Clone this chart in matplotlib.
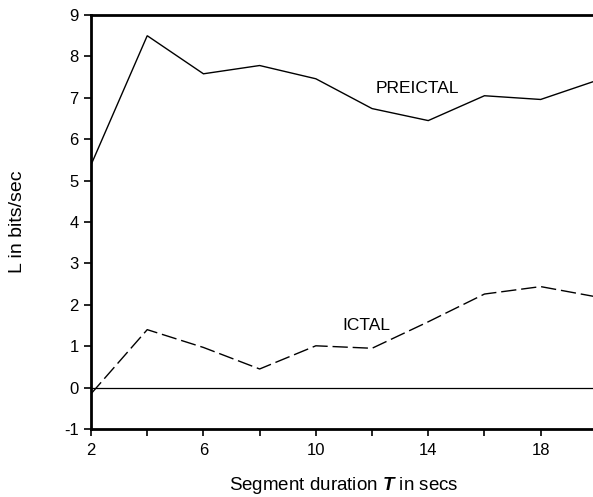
import matplotlib
matplotlib.use("Agg")
import matplotlib.pyplot as plt
from matplotlib.ticker import FixedLocator

plt.rcParams['font.family'] = ['Liberation Sans', 'DejaVu Sans']
plt.rcParams['axes.unicode_minus'] = False
plt.rcParams['mathtext.fontset'] = 'custom'
plt.rcParams['mathtext.rm'] = 'Liberation Sans'
plt.rcParams['mathtext.it'] = 'Liberation Sans:italic'
plt.rcParams['mathtext.bf'] = 'Liberation Sans:bold'
plt.rcParams['mathtext.bfit'] = 'Liberation Sans:italic:bold'

segment_T = [2, 4, 6, 8, 10, 12, 14, 16, 18, 20]
preictal = [5.38, 8.50, 7.58, 7.78, 7.46, 6.74, 6.45, 7.05, 6.96, 7.42]
ictal = [-0.15, 1.40, 0.97, 0.45, 1.01, 0.95, 1.59, 2.26, 2.44, 2.19]
major_x = [2, 6, 10, 14, 18]
minor_x = [4, 8, 12, 16]
y_ticks = [-1, 0, 1, 2, 3, 4, 5, 6, 7, 8, 9]

fig = plt.figure(figsize=(5.93, 4.97), dpi=100)
ax = fig.add_axes([0.1535, 0.1368, 0.853, 0.833])

ax.plot(segment_T, preictal, color='black', lw=1.0, solid_joinstyle='miter')
ax.plot(segment_T, ictal, color='black', lw=1.0, dashes=(11, 3.5))
ax.axhline(0, color='black', lw=0.9)

ax.text(13.6, 7.23, 'PREICTAL', ha='center', va='center', fontsize=12.5)
ax.text(11.8, 1.51, 'ICTAL', ha='center', va='center', fontsize=12.5)

ax.set_xlim(2, 20)
ax.set_ylim(-1, 9)
ax.xaxis.set_major_locator(FixedLocator(major_x))
ax.xaxis.set_minor_locator(FixedLocator(minor_x))
ax.set_yticks(y_ticks)
ax.tick_params(axis='both', which='both', direction='out', length=5, width=1.2,
               labelsize=12, colors='black')
ax.tick_params(axis='x', pad=5)
ax.tick_params(axis='y', pad=4)

for side in ['left', 'bottom', 'top']:
    ax.spines[side].set_linewidth(2.0)
ax.spines['right'].set_visible(False)

ax.set_ylabel('L in bits/sec', fontsize=14)
ax.yaxis.set_label_coords(-0.128, 0.5)
ax.set_xlabel(r'Segment duration $\mathbfit{T}$ in secs', fontsize=13.5)
ax.xaxis.set_label_coords(0.5, -0.112)

fig.savefig('out.png', dpi=100)
